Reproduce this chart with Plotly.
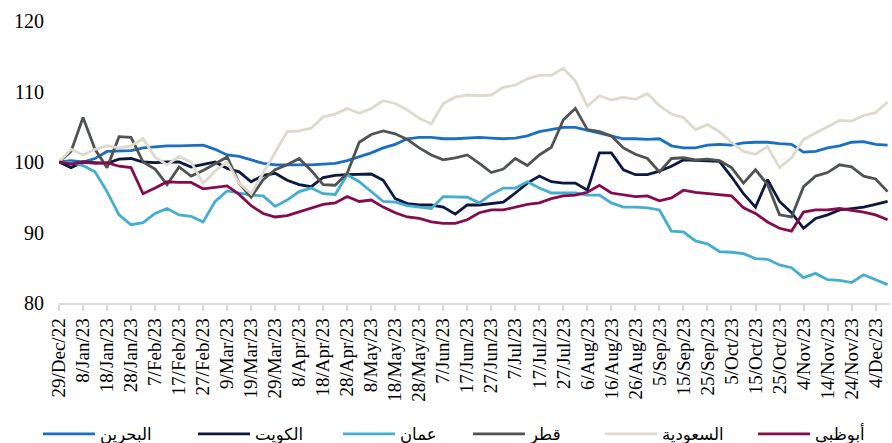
import pandas as pd
import plotly.graph_objects as go

# Shared sampling dates (every 5 days from 29 Dec 2022)
dates = pd.date_range("2022-12-29", periods=70, freq="5D")

bahrain = [100, 100.2, 100, 100.5, 101.5, 101.6, 101.6, 102, 102.2, 102.3,
           102.3, 102.3, 102.4, 101.8, 101, 100.8, 100.3, 99.8, 99.6, 99.6,
           99.5, 99.6, 99.7, 99.8, 100.2, 100.7, 101.3, 102, 102.5, 103.3,
           103.5, 103.5, 103.3, 103.3, 103.4, 103.5, 103.4, 103.3, 103.4, 103.7,
           104.3, 104.6, 104.9, 104.9, 104.5, 104.2, 103.7, 103.3, 103.3, 103.2,
           103.3, 102.3, 102, 102, 102.4, 102.5, 102.4, 102.7, 102.8, 102.8,
           102.6, 102.5, 101.4, 101.5, 102, 102.3, 102.8, 102.9, 102.5, 102.4]

kuwait = [100, 99.2, 100, 99.9, 99.8, 100.4, 100.5, 100, 99.9, 100,
          100, 99.3, 99.6, 100, 99.1, 98.6, 97.2, 98.1, 98.4, 97.4,
          96.8, 96.5, 97.8, 98.1, 98.2, 98.2, 98.3, 97.4, 94.8, 94.1,
          93.9, 93.9, 93.6, 92.6, 93.9, 93.9, 94.1, 94.3, 95.6, 97,
          98, 97.2, 97, 97, 96, 101.3, 101.3, 98.9, 98.2, 98.2,
          98.7, 99.4, 100.3, 100.2, 100.2, 100.1, 97.9, 95.5, 93.6, 97.5,
          94.4, 92.8, 90.6, 92, 92.5, 93.2, 93.4, 93.6, 94, 94.4]

oman = [100, 99.9, 99.5, 98.6, 95.8, 92.5, 91.1, 91.4, 92.7, 93.4,
        92.5, 92.3, 91.5, 94.4, 95.9, 95.6, 95.3, 95.2, 93.7, 94.6,
        95.8, 96.3, 95.5, 95.4, 98.2, 97.2, 95.8, 94.4, 94.3, 93.8,
        93.6, 93.4, 95.1, 95.1, 95, 94.2, 95.4, 96.3, 96.3, 97.2,
        96.3, 95.6, 95.6, 95.6, 95.3, 95.3, 94.2, 93.6, 93.6, 93.5,
        93.2, 90.2, 90.1, 88.8, 88.4, 87.3, 87.2, 87, 86.3, 86.2,
        85.4, 85, 83.6, 84.2, 83.3, 83.2, 82.9, 84, 83.3, 82.6]

qatar = [100, 101.5, 106.3, 101.8, 99.2, 103.6, 103.5, 100, 99, 96.8,
         99.3, 98, 98.8, 99.7, 100.7, 97, 95, 97.5, 98.9, 99.6,
         100.5, 98.8, 96.8, 96.7, 98.4, 102.8, 103.9, 104.4, 104, 103.2,
         102, 101, 100.3, 100.6, 101, 99.8, 98.5, 99, 100.5, 99.5,
         101, 102.1, 106, 107.6, 104.6, 104.3, 103.7, 102, 101.1, 100.5,
         98.6, 100.5, 100.6, 100.3, 100.4, 100.2, 99.2, 97, 98.9, 96.8,
         92.5, 92.2, 96.5, 98, 98.5, 99.6, 99.3, 98, 97.6, 95.8]

saudi = [100, 101.8, 101, 101.8, 102.3, 102, 102.3, 103.3, 100.7, 99.6,
         100.8, 100, 97, 98.7, 100, 97, 95.5, 98.4, 101.2, 104.3,
         104.4, 104.8, 106.4, 106.8, 107.6, 106.9, 107.6, 108.7, 108.3, 107.4,
         106.2, 105.4, 108.3, 109.2, 109.5, 109.4, 109.5, 110.6, 110.9, 111.8,
         112.3, 112.3, 113.3, 111.5, 107.9, 109.4, 108.8, 109.2, 108.9, 109.7,
         108, 106.8, 106.3, 104.6, 105.3, 104.3, 102.8, 101.5, 101.1, 102.2,
         99.2, 100.6, 103.2, 104.1, 105.1, 105.9, 105.8, 106.6, 107, 108.5]

abudhabi = [100, 99.7, 100, 99.8, 99.9, 99.4, 99.2, 95.5, 96.3, 97.2,
            97.1, 97.1, 96.2, 96.4, 96.6, 95.4, 93.8, 92.7, 92.2, 92.4,
            92.9, 93.5, 94, 94.2, 95.1, 94.4, 94.6, 93.6, 92.8, 92.2,
            92, 91.5, 91.3, 91.3, 91.8, 92.8, 93.2, 93.2, 93.6, 94,
            94.2, 94.8, 95.2, 95.3, 95.7, 96.7, 95.6, 95.3, 95.1, 95.2,
            94.5, 94.9, 96, 95.7, 95.5, 95.3, 95.2, 93.5, 92.7, 91.5,
            90.6, 90.2, 92.9, 93.2, 93.2, 93.4, 93.2, 92.9, 92.5, 91.8]

series_names = ["البحرين", "الكويت", "عمان", "قطر", "السعودية", "أبوظبي"]
series_values = [bahrain, kuwait, oman, qatar, saudi, abudhabi]
series_colors = ["#1A6FC4", "#0B1840", "#43AED0", "#4F5351", "#DEDACB", "#850A4E"]

tick_labels = ["29/Dec/22", "8/Jan/23", "18/Jan/23", "28/Jan/23", "7/Feb/23",
               "17/Feb/23", "27/Feb/23", "9/Mar/23", "19/Mar/23", "29/Mar/23",
               "8/Apr/23", "18/Apr/23", "28/Apr/23", "8/May/23", "18/May/23",
               "28/May/23", "7/Jun/23", "17/Jun/23", "27/Jun/23", "7/Jul/23",
               "17/Jul/23", "27/Jul/23", "6/Aug/23", "16/Aug/23", "26/Aug/23",
               "5/Sep/23", "15/Sep/23", "25/Sep/23", "5/Oct/23", "15/Oct/23",
               "25/Oct/23", "4/Nov/23", "14/Nov/23", "24/Nov/23", "4/Dec/23"]
tick_dates = pd.date_range("2022-12-29", periods=len(tick_labels), freq="10D")

# one legend box per series, placed like the reference's legend row
legend_x_px = [38, 193, 338, 468, 600, 753]

fig = go.Figure()
layout_legends = {}
for i, (name, vals, col) in enumerate(zip(series_names, series_values, series_colors)):
    lg = "legend" if i == 0 else f"legend{i + 1}"
    fig.add_trace(go.Scatter(x=dates, y=vals, mode="lines", name=name,
                             line=dict(color=col, width=2.8), legend=lg))
    layout_legends[lg] = dict(
        orientation="h", xref="container", yref="container",
        x=legend_x_px[i] / 892, y=0.02, xanchor="left", yanchor="middle",
        itemwidth=52,
        font=dict(family="DejaVu Sans, Noto Sans, sans-serif", size=16.5),
        bgcolor="rgba(0,0,0,0)")

fig.update_layout(
    width=892, height=443,
    margin=dict(l=59, r=2, t=21, b=140, autoexpand=False),
    plot_bgcolor="white", paper_bgcolor="white",
    font=dict(family="Liberation Serif, Times New Roman, serif", color="#000", size=19),
    showlegend=True,
    **layout_legends,
)
fig.update_xaxes(
    type="date", range=["2022-12-29", "2023-12-10"], automargin=False,
    tickvals=tick_dates, ticktext=tick_labels, tickangle=-90,
    showgrid=False, showline=True, linecolor="#D9D9D9", linewidth=1.5,
    ticks="outside", tickcolor="#D9D9D9", ticklen=6, tickwidth=1.5,
    tickfont=dict(size=19), zeroline=False,
)
fig.update_yaxes(
    range=[80, 120], tickvals=[80, 90, 100, 110, 120], automargin=False,
    showgrid=False, showline=False, zeroline=False,
    ticks="", ticklabelstandoff=14, tickfont=dict(size=20),
)

fig.write_html("out.html",
               config={"displayModeBar": False},
               post_script="document.body.style.margin='0';document.body.style.overflow='hidden';")
